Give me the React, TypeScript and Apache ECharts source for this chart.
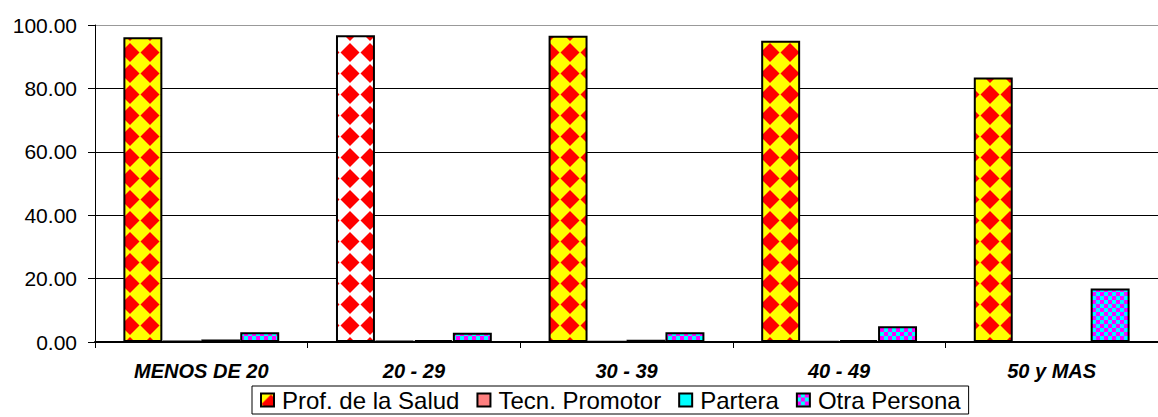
import React, { useEffect, useRef } from "react";
import * as echarts from "echarts";

const categories = ["MENOS DE 20", "20 - 29", "30 - 39", "40 - 49", "50 y MAS"];
const profSalud = [96.1, 96.8, 96.6, 95.0, 83.4];
const tecnPromotor = [0.3, 0.3, 0.2, 0.2, 0];
const partera = [0.8, 0.6, 0.7, 0.6, 0];
const otraPersona = [3.1, 2.9, 3.1, 5.0, 16.9];
const yTicks = [0, 20, 40, 60, 80, 100];

const FONT = "Liberation Sans, Arial, sans-serif";

function diamondPattern(bg: string) {
  const c = document.createElement("canvas");
  c.width = 20;
  c.height = 21;
  const ctx = c.getContext("2d")!;
  ctx.fillStyle = bg;
  ctx.fillRect(0, 0, 20, 21);
  ctx.fillStyle = "#ff0000";
  ctx.beginPath();
  ctx.moveTo(10, 1);
  ctx.lineTo(19.5, 10.5);
  ctx.lineTo(10, 20);
  ctx.lineTo(0.5, 10.5);
  ctx.closePath();
  ctx.fill();
  return c;
}

function checkerPattern() {
  const c = document.createElement("canvas");
  c.width = 8;
  c.height = 8;
  const ctx = c.getContext("2d")!;
  ctx.fillStyle = "#00ffff";
  ctx.fillRect(0, 0, 8, 8);
  ctx.fillStyle = "#ff00ff";
  ctx.fillRect(0, 0, 4, 4);
  ctx.fillRect(4, 4, 4, 4);
  return c;
}

export default function App() {
  const ref = useRef<HTMLDivElement>(null);
  useEffect(() => {
    document.body.style.margin = "0";
    document.body.style.overflow = "hidden";
    const chart = echarts.init(ref.current!, undefined, { renderer: "svg" });
    const yellowDiamond = { image: diamondPattern("#ffff00"), repeat: "repeat" };
    const whiteDiamond = { image: diamondPattern("#ffffff"), repeat: "repeat" };
    const checker = { image: checkerPattern(), repeat: "repeat" };
    const border = { borderColor: "#000", borderWidth: 2 };
    const barCommon = { type: "bar", barGap: "0%", barCategoryGap: "26.7%" };
    chart.setOption({
      animation: false,
      backgroundColor: "#fff",
      textStyle: { fontFamily: FONT },
      grid: { left: 95, top: 25, bottom: 75, right: -10 },
      legend: {
        left: 252,
        top: 386,
        padding: [2, 8, 2, 8],
        itemGap: 17,
        itemWidth: 13,
        itemHeight: 13,
        icon: "rect",
        borderColor: "#000",
        borderWidth: 1,
        textStyle: { fontSize: 24, color: "#000", fontFamily: FONT, padding: [0, 0, 0, 3] },
        data: ["Prof. de la Salud", "Tecn. Promotor", "Partera", "Otra Persona"],
      },
      xAxis: {
        type: "category",
        data: categories,
        axisLine: { lineStyle: { color: "#000", width: 2 } },
        axisTick: { show: true, length: 6, lineStyle: { color: "#000" } },
        axisLabel: {
          fontSize: 20,
          fontWeight: "bold",
          fontStyle: "italic",
          color: "#000",
          margin: 19,
        },
      },
      yAxis: {
        type: "value",
        min: 0,
        max: 100,
        interval: 20,
        axisLine: { show: true, lineStyle: { color: "#000", width: 1 } },
        axisTick: { show: true, length: 7, lineStyle: { color: "#000" } },
        splitLine: {
          lineStyle: { color: ["#000", "#000", "#000", "#000", "#000", "#999"], width: 1 },
        },
        axisLabel: {
          fontSize: 21,
          color: "#000",
          margin: 18,
          formatter: (v: number) => (yTicks.includes(v) ? v.toFixed(2) : ""),
        },
      },
      series: [
        {
          ...barCommon,
          name: "Prof. de la Salud",
          itemStyle: { color: yellowDiamond, ...border },
          data: profSalud.map((v, i) =>
            i === 1 ? { value: v, itemStyle: { color: whiteDiamond } } : v
          ),
        },
        {
          ...barCommon,
          name: "Tecn. Promotor",
          itemStyle: { color: "#ff8080", ...border },
          data: tecnPromotor,
        },
        {
          ...barCommon,
          name: "Partera",
          itemStyle: { color: "#00ffff", ...border },
          data: partera,
        },
        {
          ...barCommon,
          name: "Otra Persona",
          itemStyle: { color: checker, ...border },
          data: otraPersona,
        },
      ],
    });
    return () => chart.dispose();
  }, []);
  return <div ref={ref} style={{ width: 1158, height: 417 }} />;
}
